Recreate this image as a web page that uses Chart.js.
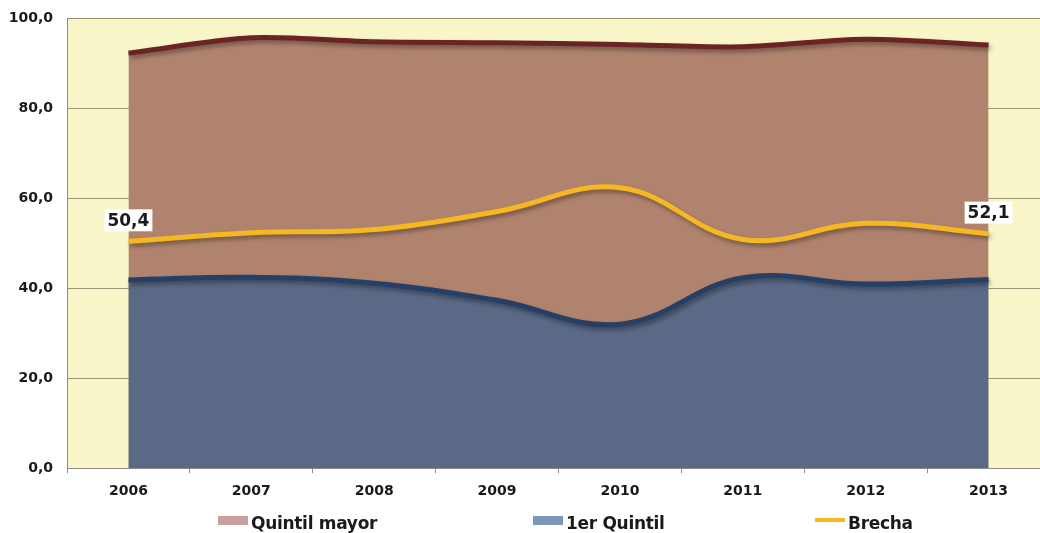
<!DOCTYPE html>
<html lang="es">
<head>
<meta charset="utf-8">
<title>Quintiles</title>
<script src="https://cdn.jsdelivr.net/npm/chart.js@4.4.1/dist/chart.umd.min.js"></script>
<style>
  html, body { margin:0; padding:0; background:#fff; overflow:hidden; width:1040px; height:533px; }
  #wrap { position:relative; width:1060px; height:533px; }
  #legend { position:absolute; left:0; top:510px; width:1040px; height:26px;
            font:bold 17px "DejaVu Sans", Arial, sans-serif; color:#1a1a1a; letter-spacing:-0.3px; }
  .item { position:absolute; top:0; height:26px; display:flex; align-items:center; white-space:nowrap; }
  .sw { width:30px; margin-right:3px; position:relative; top:-3px; }
</style>
</head>
<body>
<div id="wrap">
  <canvas id="chart" width="1060" height="533"></canvas>
  <div id="legend"></div>
</div>
<script>
// ---------- Data ----------
const years = ['2006','2007','2008','2009','2010','2011','2012','2013'];
const quintilMayor  = [92.2, 95.6, 94.7, 94.5, 94.1, 93.6, 95.3, 94.0];
const primerQuintil = [41.8, 42.4, 41.1, 37.3, 32.0, 42.3, 40.9, 41.9];
const brecha        = [50.4, 52.3, 53.0, 57.0, 62.3, 50.8, 54.4, 52.1];
const yTickLabels = ['0,0','20,0','40,0','60,0','80,0','100,0'];
const seriesNames = ['Quintil mayor','1er Quintil','Brecha'];

// ---------- Styles ----------
const FONT = '"DejaVu Sans", Arial, sans-serif';
const PLOT_BG = '#f8f6c8';
const legendSwatch = ['#c9a0a0', '#7d97b8', '#f5b820'];
const legendLeft = [218, 533, 815]; // px
const Y_AXIS_W = 67;

// ---------- Plugins ----------
const plotBg = {
  id: 'plotBg',
  beforeDraw(chart){
    const {ctx, chartArea:a} = chart;
    ctx.save();
    ctx.fillStyle = PLOT_BG;
    ctx.fillRect(a.left, a.top, a.right - a.left, a.bottom - a.top);
    ctx.restore();
  }
};

const lineShadow = {
  id: 'lineShadow',
  beforeDatasetDraw(chart){
    const ctx = chart.ctx;
    ctx.save();
    ctx.shadowColor = 'rgba(0,0,0,0.35)';
    ctx.shadowBlur = 4;
    ctx.shadowOffsetX = 2;
    ctx.shadowOffsetY = 3;
  },
  afterDatasetDraw(chart){ chart.ctx.restore(); }
};

const endLabels = {
  id: 'endLabels',
  afterDatasetsDraw(chart){
    const ctx = chart.ctx;
    const meta = chart.getDatasetMeta(2);
    const pts = [0, brecha.length - 1];
    ctx.save();
    ctx.font = 'bold 17px ' + FONT;
    ctx.textAlign = 'center';
    ctx.textBaseline = 'middle';
    pts.forEach(i=>{
      const p = meta.data[i];
      const txt = brecha[i].toFixed(1).replace('.', ',');
      const w = ctx.measureText(txt).width + 6;
      const cy = p.y - 21;
      ctx.fillStyle = '#ffffff';
      ctx.fillRect(p.x - w/2, cy - 11, w, 22);
      ctx.fillStyle = '#1a1a1a';
      ctx.fillText(txt, p.x, cy + 1);
    });
    ctx.restore();
  }
};

// ---------- Chart ----------
const chart = new Chart(document.getElementById('chart').getContext('2d'), {
  type: 'line',
  data: {
    labels: years,
    datasets: [
      { label: seriesNames[0], data: quintilMayor, order: 3, fill: 'origin',
        borderColor: '#6a2424', backgroundColor: 'rgb(176,131,110)', borderWidth: 5,
        tension: 0.3, pointRadius: 0 },
      { label: seriesNames[1], data: primerQuintil, order: 2, fill: 'origin',
        borderColor: '#253f66', backgroundColor: 'rgb(90,105,134)', borderWidth: 5,
        tension: 0.4, pointRadius: 0 },
      { label: seriesNames[2], data: brecha, order: 1, fill: false,
        borderColor: '#f5b820', borderWidth: 5, tension: 0.4, pointRadius: 0 }
    ]
  },
  options: {
    responsive: false,
    animation: false,
    layout: { padding: { left: 0, right: 10, top: 18, bottom: 23 } },
    plugins: { legend: { display: false }, tooltip: { enabled: false } },
    scales: {
      x: {
        offset: true,
        grid: { display: true, drawOnChartArea: false, offset: true, tickLength: 5, color: '#8a8a8a' },
        border: { color: '#8a8a8a', width: 1 },
        ticks: { color: '#1a1a1a', font: { family: FONT, size: 14, weight: 'bold' }, padding: 10 }
      },
      y: {
        z: 1,
        min: 0, max: 100,
        afterFit: s => { s.width = Y_AXIS_W; s.paddingTop = 0; s.paddingBottom = 0; },
        grid: { color: 'rgba(70,45,35,0.5)', drawTicks: false },
        border: { color: '#8a8a8a', width: 1 },
        ticks: { stepSize: 20, padding: 14, color: '#1a1a1a',
                 font: { family: FONT, size: 14, weight: 'bold' },
                 callback: (v, i) => yTickLabels[i] }
      }
    }
  },
  plugins: [plotBg, lineShadow, endLabels]
});

// ---------- Legend (HTML) ----------
const legendEl = document.getElementById('legend');
seriesNames.forEach((name, i)=>{
  const it = document.createElement('div');
  it.className = 'item';
  it.style.left = legendLeft[i] + 'px';
  const sw = document.createElement('span');
  sw.className = 'sw';
  sw.style.background = legendSwatch[i];
  sw.style.height = i === 2 ? '4px' : '9px';
  it.appendChild(sw);
  it.appendChild(document.createTextNode(name));
  legendEl.appendChild(it);
});
</script>
</body>
</html>
